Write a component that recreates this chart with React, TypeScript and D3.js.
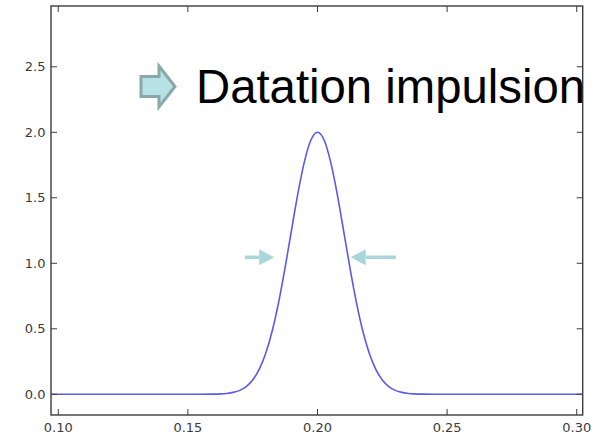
import React from "react";
import * as d3 from "d3";

const xValues = [
  0.0972, 0.1, 0.12, 0.14, 0.15, 0.155, 0.16, 0.1625, 0.165, 0.1675, 0.17, 0.1725, 0.175, 0.1775,
  0.18, 0.1825, 0.185, 0.1875, 0.19, 0.1925, 0.195, 0.1975, 0.2, 0.2025, 0.205, 0.2075,
  0.21, 0.2125, 0.215, 0.2175, 0.22, 0.2225, 0.225, 0.2275, 0.23, 0.2325, 0.235, 0.2375, 0.24,
  0.245, 0.25, 0.26, 0.28, 0.3, 0.3023,
];
const yValues = [
  0, 0, 0, 0, 0, 0.0002, 0.0012, 0.0029, 0.0067, 0.0147, 0.030, 0.059, 0.109, 0.190,
  0.311, 0.481, 0.702, 0.967, 1.256, 1.540, 1.780, 1.943, 2.0, 1.943, 1.780, 1.540,
  1.256, 0.967, 0.702, 0.481, 0.311, 0.190, 0.109, 0.059, 0.030, 0.0147, 0.0067, 0.0029, 0.0012,
  0.0002, 0, 0, 0, 0, 0,
];
const xTicks = [0.1, 0.15, 0.2, 0.25, 0.3];
const xTickLabels = ["0.10", "0.15", "0.20", "0.25", "0.30"];
const yTicks = [0.0, 0.5, 1.0, 1.5, 2.0, 2.5];
const yTickLabels = ["0.0", "0.5", "1.0", "1.5", "2.0", "2.5"];
const xDomain = [0.0972, 0.3023];
const yDomain = [-0.158, 2.964];
const titleText = "Datation impulsion";
const markerLevel = 1.046;
const markerLeftX = [0.172, 0.1833];
const markerRightX = [0.2302, 0.2128];

export default function App() {
  const W = 602, H = 437;
  const left = 51, right = 582.7, top = 6, bottom = 415;
  const x = d3.scaleLinear().domain(xDomain).range([left, right]);
  const y = d3.scaleLinear().domain(yDomain).range([bottom, top]);
  const pts = xValues.map((v, i) => [v, yValues[i]] as [number, number]);
  const line = d3
    .line<[number, number]>()
    .x((d) => x(d[0]))
    .y((d) => y(d[1]))
    .curve(d3.curveMonotoneX);
  const tickLen = 6;
  const labelStyle = { fontFamily: "DejaVu Sans", fontSize: 13, fill: "#3a3a3a" } as const;

  const arrowColor = "#a9d6d9";
  const my = y(markerLevel);
  const smallArrow = (fromPx: number, tipPx: number, key: string) => {
    const dir = Math.sign(tipPx - fromPx);
    const headLen = 15;
    const baseX = tipPx - dir * headLen;
    return (
      <g key={key}>
        <line x1={fromPx} y1={my} x2={baseX} y2={my} stroke={arrowColor} strokeWidth={3.5} />
        <path d={`M${tipPx},${my} L${baseX},${my - 8} L${baseX},${my + 8} Z`} fill={arrowColor} />
      </g>
    );
  };

  return (
    <svg
      width={W}
      height={H}
      style={{ position: "absolute", left: 0, top: 0, background: "#fff" }}
    >
      <rect x={0} y={0} width={W} height={H} fill="#fff" />
      <path d={line(pts) || ""} fill="none" stroke="#5a5ae6" strokeWidth={1.6} />
      {/* frame */}
      <rect x={left} y={top} width={right - left} height={bottom - top} fill="none" stroke="#3c3c3c" strokeWidth={1.4} />
      {xTicks.map((t, i) => (
        <g key={"xt" + i}>
          <line x1={x(t)} x2={x(t)} y1={bottom} y2={bottom - tickLen} stroke="#3c3c3c" strokeWidth={1} />
          <line x1={x(t)} x2={x(t)} y1={top} y2={top + tickLen} stroke="#3c3c3c" strokeWidth={1} />
          <text x={x(t)} y={432} textAnchor="middle" {...labelStyle}>
            {xTickLabels[i]}
          </text>
        </g>
      ))}
      {yTicks.map((t, i) => (
        <g key={"yt" + i}>
          <line x1={left} x2={left + tickLen} y1={y(t)} y2={y(t)} stroke="#3c3c3c" strokeWidth={1} />
          <line x1={right} x2={right - tickLen} y1={y(t)} y2={y(t)} stroke="#3c3c3c" strokeWidth={1} />
          <text x={45.5} y={y(t)} dy="0.36em" textAnchor="end" {...labelStyle}>
            {yTickLabels[i]}
          </text>
        </g>
      ))}
      {smallArrow(x(markerLeftX[0]), x(markerLeftX[1]), "la")}
      {smallArrow(x(markerRightX[0]), x(markerRightX[1]), "ra")}
      {/* bullet arrow */}
      <path
        d="M141,76.5 L159,76.5 L159,66 L175,86.5 L159,107 L159,96.5 L141,96.5 Z"
        fill="#b6e2e5"
        stroke="#8aa8aa"
        strokeWidth={3}
        strokeLinejoin="miter"
      />
      <text x={196} y={103} fontFamily="Liberation Sans, Arial, sans-serif" fontSize={47.3} fill="#000">
        {titleText}
      </text>
    </svg>
  );
}
